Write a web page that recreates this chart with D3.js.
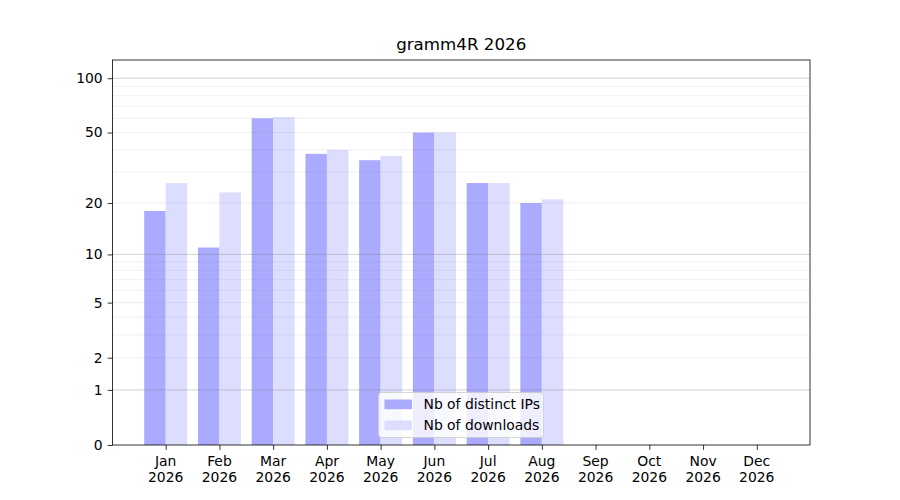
<!DOCTYPE html>
<html>
<head>
<meta charset="utf-8">
<script src="https://cdn.jsdelivr.net/npm/d3@7"></script>
<style>
  body { margin: 0; background: #fff; }
  text { font-family: "DejaVu Sans", sans-serif; fill: #000; }
</style>
</head>
<body>
<div id="chart"></div>
<script>
// DATA
const months = ['Jan', 'Feb', 'Mar', 'Apr', 'May', 'Jun', 'Jul', 'Aug', 'Sep', 'Oct', 'Nov', 'Dec'];
const year = '2026';
const ips = [18, 11, 60, 38, 35, 50, 26, 20, 0, 0, 0, 0];
const downloads = [26, 23, 61, 40, 37, 50, 26, 21, 0, 0, 0, 0];
const yTicks = [0, 1, 2, 5, 10, 20, 50, 100];
const majorGrid = [1, 10, 100];
const minorGrid = [2, 3, 4, 5, 6, 7, 8, 9, 20, 30, 40, 50, 60, 70, 80, 90];
const yMax = 126;
const seriesNames = ['Nb of distinct IPs', 'Nb of downloads'];
const colors = ['#aaaaff', '#ddddff'];

const width = 900;
const height = 500;
const margin = {top: 60, right: 90, bottom: 55, left: 112.5};

const svg = d3.select('#chart')
    .append('svg')
        .attr('width', width)
        .attr('height', height);

// log(1 + v) scale
const lp = v => Math.log10(1 + v);

const x = d3.scaleLinear()
    .domain([-0.99, months.length - 1 + 0.99])
    .range([margin.left, width - margin.right]);
const y = d3.scaleLinear()
    .domain([0, lp(yMax)])
    .range([height - margin.bottom, margin.top]);
const yv = v => y(lp(v));

const bw = x(0.4) - x(0);

// bars
svg.append('g')
    .selectAll('rect')
    .data(ips)
    .join('rect')
        .attr('x', (d, i) => x(i - 0.4))
        .attr('y', d => yv(d))
        .attr('width', bw)
        .attr('height', d => yv(0) - yv(d))
        .attr('fill', colors[0]);

svg.append('g')
    .selectAll('rect')
    .data(downloads)
    .join('rect')
        .attr('x', (d, i) => x(i))
        .attr('y', d => yv(d))
        .attr('width', bw)
        .attr('height', d => yv(0) - yv(d))
        .attr('fill', colors[1]);

// grid
svg.append('g')
    .selectAll('line')
    .data(minorGrid)
    .join('line')
        .attr('x1', margin.left)
        .attr('x2', width - margin.right)
        .attr('y1', d => yv(d))
        .attr('y2', d => yv(d))
        .attr('stroke', '#808080')
        .attr('stroke-opacity', 0.15)
        .attr('stroke-width', 0.8);

svg.append('g')
    .selectAll('line')
    .data(majorGrid)
    .join('line')
        .attr('x1', margin.left)
        .attr('x2', width - margin.right)
        .attr('y1', d => yv(d))
        .attr('y2', d => yv(d))
        .attr('stroke', '#808080')
        .attr('stroke-opacity', 0.45)
        .attr('stroke-width', 0.8);

// axes
const xAxis = g => g
    .attr('transform', `translate(0,${height - margin.bottom})`)
    .call(d3.axisBottom(x)
        .tickValues(d3.range(months.length))
        .tickSize(4.9)
        .tickPadding(4.9)
        .tickFormat(''))
    .call(g => g.select('.domain').remove())
    .call(g => g.selectAll('.tick line').attr('stroke-width', 0.8));

const yAxis = g => g
    .attr('transform', `translate(${margin.left},0)`)
    .call(d3.axisLeft(y)
        .tickValues(yTicks.map(lp))
        .tickSize(4.9)
        .tickPadding(4.9)
        .tickFormat((d, i) => yTicks[i]))
    .call(g => g.select('.domain').remove())
    .call(g => g.selectAll('.tick line').attr('stroke-width', 0.8))
    .call(g => g.selectAll('.tick text')
        .attr('font-size', 13.9)
        .attr('font-family', '"DejaVu Sans", sans-serif')
        .attr('fill', '#000'));

svg.append('g').call(xAxis);
svg.append('g').call(yAxis);

// month labels (two lines)
const xl = svg.append('g')
    .selectAll('text')
    .data(months)
    .join('text')
        .attr('x', (d, i) => x(i))
        .attr('y', 466)
        .attr('text-anchor', 'middle')
        .attr('font-size', 13.9);
xl.append('tspan').text(d => d);
xl.append('tspan')
    .attr('x', (d, i) => x(i))
    .attr('dy', 16)
    .text(year);

// frame
svg.append('rect')
    .attr('x', margin.left)
    .attr('y', margin.top)
    .attr('width', width - margin.right - margin.left)
    .attr('height', height - margin.bottom - margin.top)
    .attr('fill', 'none')
    .attr('stroke', '#000')
    .attr('stroke-width', 0.8);

// title
svg.append('text')
    .attr('x', (margin.left + width - margin.right) / 2)
    .attr('y', 50)
    .attr('text-anchor', 'middle')
    .attr('font-size', 16.7)
    .text(`gramm4R ${year}`);

// legend
const lg = svg.append('g')
    .attr('transform', 'translate(378.5,392.5)');
lg.append('rect')
    .attr('width', 165)
    .attr('height', 45)
    .attr('rx', 3)
    .attr('fill', '#fff')
    .attr('fill-opacity', 0.8)
    .attr('stroke', '#cccccc')
    .attr('stroke-width', 0.8);
const items = lg.selectAll('g.item')
    .data(seriesNames)
    .join('g')
        .attr('class', 'item')
        .attr('transform', (d, i) => `translate(6,${7 + i * 21})`);
items.append('rect')
    .attr('width', 27.5)
    .attr('height', 9.7)
    .attr('fill', (d, i) => colors[i]);
items.append('text')
    .attr('x', 39)
    .attr('y', 9.5)
    .attr('font-size', 13.9)
    .text(d => d);
</script>
</body>
</html>
